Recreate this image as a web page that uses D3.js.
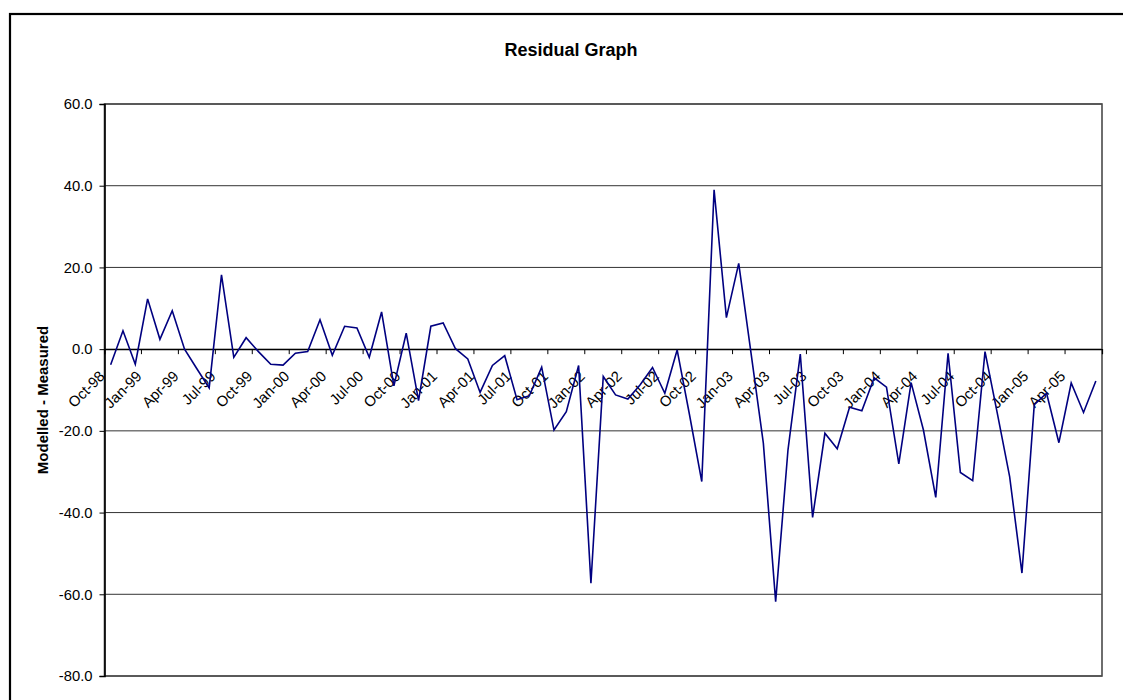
<!DOCTYPE html>
<html>
<head>
<meta charset="utf-8">
<script src="https://cdn.jsdelivr.net/npm/d3@7"></script>
<style>
  html, body { margin: 0; padding: 0; background: #fff; }
  svg { display: block; }
  text { font-family: Arial, "Liberation Sans", sans-serif; fill: #000; }
</style>
</head>
<body>
<svg id="chart" width="1123" height="700"></svg>
<script>
// ---- data ----
const months = [
  "Oct-98","Nov-98","Dec-98",
  "Jan-99","Feb-99","Mar-99","Apr-99","May-99","Jun-99","Jul-99","Aug-99","Sep-99","Oct-99","Nov-99","Dec-99",
  "Jan-00","Feb-00","Mar-00","Apr-00","May-00","Jun-00","Jul-00","Aug-00","Sep-00","Oct-00","Nov-00","Dec-00",
  "Jan-01","Feb-01","Mar-01","Apr-01","May-01","Jun-01","Jul-01","Aug-01","Sep-01","Oct-01","Nov-01","Dec-01",
  "Jan-02","Feb-02","Mar-02","Apr-02","May-02","Jun-02","Jul-02","Aug-02","Sep-02","Oct-02","Nov-02","Dec-02",
  "Jan-03","Feb-03","Mar-03","Apr-03","May-03","Jun-03","Jul-03","Aug-03","Sep-03","Oct-03","Nov-03","Dec-03",
  "Jan-04","Feb-04","Mar-04","Apr-04","May-04","Jun-04","Jul-04","Aug-04","Sep-04","Oct-04","Nov-04","Dec-04",
  "Jan-05","Feb-05","Mar-05","Apr-05","May-05","Jun-05"
];
const residuals = [
  -3.8, 4.5, -3.7,
  12.3, 2.4, 9.4, 0.0, -4.8, -9.5, 18.2, -2.0, 2.8, -0.6, -3.7, -3.9,
  -1.0, -0.6, 7.2, -1.5, 5.6, 5.2, -2.0, 9.1, -9.0, 3.9, -12.6, 5.6,
  6.4, 0.1, -2.4, -10.6, -4.0, -1.6, -12.4, -11.4, -4.4, -19.8, -15.3, -4.0,
  -57.3, -6.7, -11.2, -12.2, -8.7, -4.5, -10.8, -0.2, -16.0, -32.4, 39.0, 7.7,
  21.0, -1.0, -23.0, -61.8, -24.7, -1.2, -41.2, -20.6, -24.4, -14.2, -15.1, -7.0,
  -9.3, -28.1, -8.2, -19.8, -36.3, -1.0, -30.2, -32.2, -0.6, -15.7, -31.2, -54.8,
  -13.6, -10.8, -22.9, -8.3, -15.5, -7.8
];
const xTickLabels = [
  "Oct-98","Jan-99","Apr-99","Jul-99","Oct-99","Jan-00","Apr-00","Jul-00","Oct-00",
  "Jan-01","Apr-01","Jul-01","Oct-01","Jan-02","Apr-02","Jul-02","Oct-02",
  "Jan-03","Apr-03","Jul-03","Oct-03","Jan-04","Apr-04","Jul-04","Oct-04","Jan-05","Apr-05"
];
const yTicks = [-80, -60, -40, -20, 0, 20, 40, 60];
const titleText = "Residual Graph";
const yAxisTitle = "Modelled - Measured";

// ---- layout ----
const plot = { left: 104.5, right: 1102, top: 104, bottom: 676 };
const svg = d3.select("#chart");

svg.append("rect").attr("x", 0).attr("y", 0).attr("width", 1123).attr("height", 700).attr("fill", "#fff");
svg.append("rect").attr("x", 10).attr("y", 14).attr("width", 1130).attr("height", 720)
  .attr("fill", "none").attr("stroke", "#000").attr("stroke-width", 2.2);

const x = d3.scaleBand().domain(months).range([plot.left, plot.right]).paddingInner(0).paddingOuter(0);
const y = d3.scaleLinear().domain([-80, 60]).range([plot.bottom, plot.top]);
const cx = m => x(m) + x.bandwidth() / 2;

// gridlines
svg.append("g").selectAll("line").data(yTicks).join("line")
  .attr("x1", plot.left).attr("x2", plot.right)
  .attr("y1", d => y(d)).attr("y2", d => y(d))
  .attr("stroke", "#333").attr("stroke-width", 1);

// plot area frame
svg.append("rect").attr("x", plot.left).attr("y", plot.top)
  .attr("width", plot.right - plot.left).attr("height", plot.bottom - plot.top)
  .attr("fill", "none").attr("stroke", "#4a4a4a").attr("stroke-width", 1.6);

// y axis
const yAxis = d3.axisLeft(y).tickValues(yTicks).tickSize(5).tickPadding(7)
  .tickFormat(d => d.toFixed(1));
const gy = svg.append("g").attr("transform", `translate(${plot.left},0)`).call(yAxis);
gy.select(".domain").attr("stroke", "#000").attr("stroke-width", 1.6);
gy.selectAll(".tick line").attr("stroke", "#000");
gy.selectAll(".tick text").attr("font-size", "14.8px").attr("font-family", "Arial, 'Liberation Sans', sans-serif").attr("fill", "#000");

// x axis at zero
const tickMonths = months.filter(m => xTickLabels.includes(m));
const xAxis = d3.axisBottom(x).tickValues(tickMonths).tickSize(5).tickFormat(d => d);
const gx = svg.append("g").attr("transform", `translate(0,${y(0)})`).call(xAxis);
gx.select(".domain").attr("stroke", "#000").attr("stroke-width", 1.2);
gx.selectAll(".tick").attr("transform", d => `translate(${x(d)},0)`);
gx.selectAll(".tick line").attr("stroke", "#000");
gx.selectAll(".tick text")
  .attr("font-size", "14.8px").attr("font-family", "Arial, 'Liberation Sans', sans-serif").attr("fill", "#000")
  .attr("text-anchor", "end").attr("dy", null)
  .attr("transform", `translate(${x.bandwidth() / 2 - 5},28) rotate(-45)`)
  .attr("x", 0).attr("y", 0);

// line
const line = d3.line().x((d, i) => cx(months[i])).y(d => y(d));
svg.append("path").datum(residuals).attr("d", line)
  .attr("fill", "none").attr("stroke", "#000080").attr("stroke-width", 1.6).attr("stroke-linejoin", "miter");

// titles
svg.append("text").attr("x", 571).attr("y", 56).attr("text-anchor", "middle")
  .attr("font-size", "18px").attr("font-weight", "bold").text(titleText);
svg.append("text").attr("transform", "translate(48,400) rotate(-90)").attr("text-anchor", "middle")
  .attr("font-size", "15px").attr("font-weight", "bold").text(yAxisTitle);
</script>
</body>
</html>
